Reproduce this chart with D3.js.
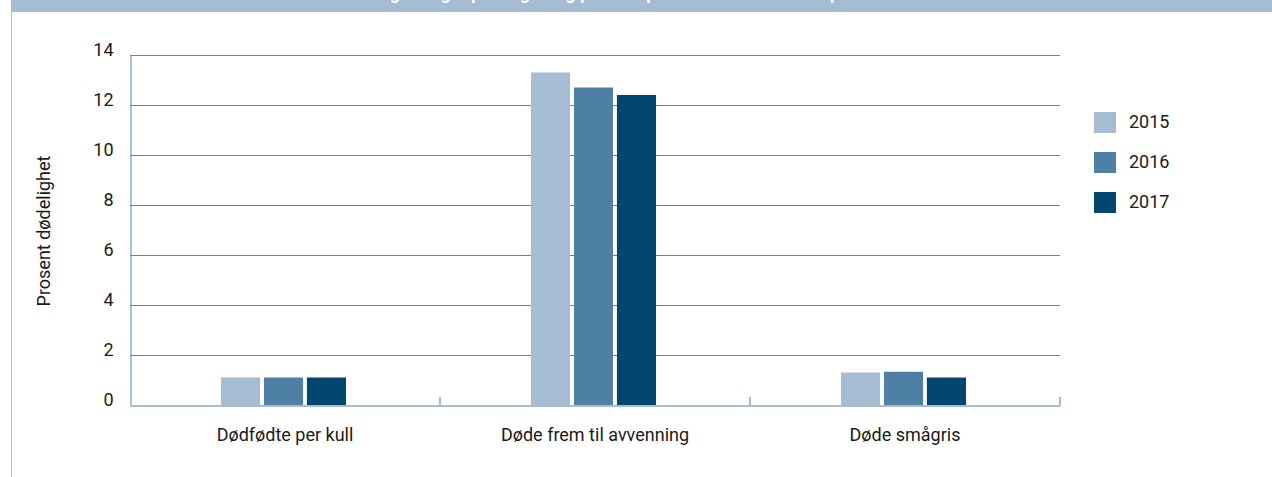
<!DOCTYPE html>
<html>
<head>
<meta charset="utf-8">
<script src="https://cdn.jsdelivr.net/npm/d3@7"></script>
<style>
  html, body { margin: 0; padding: 0; background: #fff; }
  svg { display: block; font-family: Roboto, "Noto Sans", sans-serif; }
</style>
</head>
<body>
<svg id="chart" width="1272" height="477"></svg>
<script>
// Mortality per category and year (percent)
const categories = ["Dødfødte per kull", "Døde frem til avvenning", "Døde smågris"];
const years = ["2015", "2016", "2017"];
const values2015 = [1.1, 13.3, 1.3];
const values2016 = [1.1, 12.7, 1.33];
const values2017 = [1.1, 12.4, 1.1];
const yTicks = [0, 2, 4, 6, 8, 10, 12, 14];
const colors = ["#a6bcd3", "#4e80a6", "#00466e"];
const title = "Dødelighet og tap hos gris og purker i perioden 2015–2017 i prosent";

const seriesByYear = [values2015, values2016, values2017];
const rows = categories.map((c, i) => ({
  category: c,
  values: years.map((y, j) => ({ year: y, value: seriesByYear[j][i] }))
}));

const svg = d3.select("#chart");
const W = 1272, H = 477;
const margin = { left: 130, right: 212, top: 55, bottom: 72 };
const fontSize = 18;

// Header band; the title sits above it so only its lower edge shows
svg.append("rect").attr("x", 11).attr("y", 0).attr("width", W - 11).attr("height", 12).attr("fill", "#a6bcd3");
svg.append("text").attr("x", 615).attr("y", -1).attr("text-anchor", "middle")
  .attr("fill", "#fff").attr("font-size", 18).attr("font-weight", 700).text(title);
svg.append("line").attr("x1", 11.5).attr("x2", 11.5).attr("y1", 0).attr("y2", H)
  .attr("stroke", "#a6bcd3").attr("stroke-width", 1);

const x0 = d3.scaleBand().domain(categories).range([margin.left, W - margin.right]);
const x1 = d3.scaleBand().domain(years).range([0, 125]).paddingInner(0.09);
const y = d3.scaleLinear().domain([0, 14]).range([H - margin.bottom, margin.top]);

// Gridlines
svg.append("g")
  .selectAll("line").data(yTicks.filter(t => t > 0)).join("line")
  .attr("x1", margin.left).attr("x2", W - margin.right)
  .attr("y1", d => Math.round(y(d)) + 0.5).attr("y2", d => Math.round(y(d)) + 0.5)
  .attr("stroke", "#5b87ad").attr("stroke-width", 1);

// Left axis with tick labels
const yAxis = svg.append("g").attr("transform", `translate(${margin.left + 0.5},0)`)
  .call(d3.axisLeft(y).tickValues(yTicks).tickSize(0).tickPadding(17).tickFormat(d3.format("d")));
yAxis.select(".domain").attr("stroke", "#5b87ad");
yAxis.selectAll("text").attr("font-size", fontSize).attr("fill", "#1a1a1a")
  .attr("font-family", "Roboto, sans-serif").attr("dy", "0.0em");

// Bars
const groups = svg.append("g").selectAll("g").data(rows).join("g")
  .attr("transform", d => `translate(${x0(d.category) + (x0.bandwidth() - 128) / 2},0)`);
groups.selectAll("rect").data(d => d.values).join("rect")
  .attr("x", d => x1(d.year))
  .attr("width", x1.bandwidth())
  .attr("y", d => y(d.value))
  .attr("height", d => y(0) - y(d.value))
  .attr("fill", (d, i) => colors[i]);

// Category axis along the bottom
const xAxis = svg.append("g").attr("transform", `translate(0,${y(0) + 0.5})`)
  .call(d3.axisBottom(x0).tickSize(0).tickPadding(23));
xAxis.select(".domain").attr("stroke", "#a6bcd3").attr("stroke-width", 2);
xAxis.selectAll("text").attr("font-size", fontSize).attr("fill", "#1a1a1a").attr("font-family", "Roboto, sans-serif");
svg.append("g").selectAll("line")
  .data(categories.slice(1).map(c => x0(c)).concat([W - margin.right]))
  .join("line")
  .attr("x1", d => d).attr("x2", d => d)
  .attr("y1", y(0) - 8).attr("y2", y(0))
  .attr("stroke", "#a6bcd3").attr("stroke-width", 2);

// Y axis title
svg.append("text")
  .attr("transform", `translate(50,231) rotate(-90)`)
  .attr("text-anchor", "middle").attr("font-size", fontSize).attr("fill", "#1a1a1a")
  .text("Prosent dødelighet");

// Legend
const legend = svg.append("g").attr("transform", "translate(1094,112)")
  .selectAll("g").data(years).join("g")
  .attr("transform", (d, i) => `translate(0,${i * 40})`);
legend.append("rect").attr("width", 22).attr("height", 21).attr("fill", (d, i) => colors[i]);
legend.append("text").attr("x", 35).attr("y", 16).attr("font-size", fontSize).attr("fill", "#1a1a1a").text(d => d);
</script>
</body>
</html>
